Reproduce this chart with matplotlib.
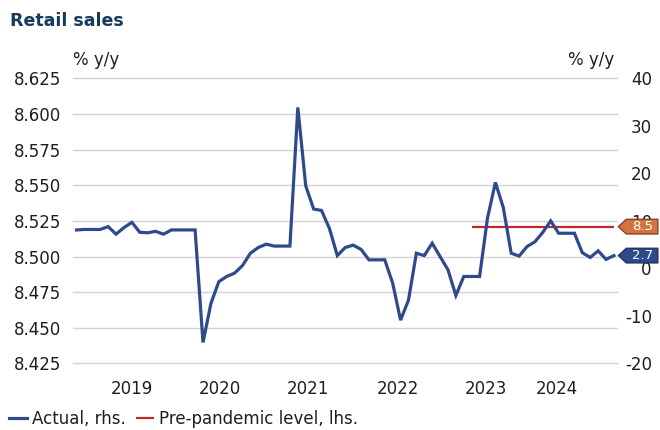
#!/usr/bin/env python3

import matplotlib
matplotlib.use('Agg')
import matplotlib.pyplot as plt
from matplotlib.patches import Polygon
import numpy as np

# monthly retail sales, % y/y (right axis)
actual = [8.1, 8.2, 8.2, 8.2, 8.8, 7.2, 8.6, 9.7, 7.6, 7.5, 7.8, 7.2,
          8.1, 8.1, 8.1, 8.1, -15.6, -7.4, -2.8, -1.7, -1.0, 0.6, 3.2, 4.4,
          5.1, 4.7, 4.7, 4.7, 33.9, 17.4, 12.5, 12.2, 8.4, 2.7, 4.4, 4.9,
          4.0, 1.8, 1.8, 1.8, -3.1, -10.9, -6.7, 3.2, 2.7, 5.3, 2.5, -0.3,
          -5.7, -1.7, -1.7, -1.7, 10.6, 18.1, 12.8, 3.2, 2.6, 4.6, 5.6, 7.6,
          10.0, 7.4, 7.4, 7.4, 3.3, 2.3, 3.7, 1.9, 2.7]

# pre-pandemic level (left axis), drawn from this month index to the end
pre_level = 8.521
pre_start = 50

years = ['2019', '2020', '2021', '2022', '2023', '2024']
year_pos = [6.96, 18.14, 29.28, 40.63, 51.81, 60.76]

left_ticks = np.arange(8.425, 8.6251, 0.025)
right_ticks = np.arange(-20, 41, 10)

blue = '#2f4a8c'
red = '#c4262e'
orange = '#d4733c'
grid = '#d3d3d3'
text = '#1e1e1e'

plt.rcParams['font.family'] = 'DejaVu Sans'
plt.rcParams['font.size'] = 12

fig = plt.figure(figsize=(6.6, 4.3), dpi=100)
ax = fig.add_axes([0.110, 0.155, 0.825, 0.6625])
ax2 = ax.twinx()

x = np.arange(len(actual))

red_line = ax.hlines(pre_level, pre_start, x[-1], color=red, linewidth=1.6,
    label='Pre-pandemic level, lhs.')
blue_line, = ax2.plot(x, actual, color=blue, linewidth=2.3,
    solid_joinstyle='miter', label='Actual, rhs.')

ax.set_xlim(-0.5, 68.4)
ax.set_ylim(8.425, 8.625)
ax2.set_ylim(-20, 40)

ax.set_yticks(left_ticks)
ax.set_yticklabels(['%.3f' % t for t in left_ticks])
ax2.set_yticks(right_ticks)
ax2.set_yticklabels(['%d' % t for t in right_ticks])
for lab in ax2.get_yticklabels():
    lab.set_horizontalalignment('right')

ax.set_xticks(year_pos)
ax.set_xticklabels(years)

ax.grid(axis='y', color=grid, linewidth=1.0)
ax.set_axisbelow(True)
for gl in ax.get_ygridlines():
    gl.set_clip_on(False)

for a in (ax, ax2):
    for s in a.spines.values():
        s.set_visible(False)
    a.tick_params(length=0, colors=text, labelsize=12)
ax.tick_params(axis='x', pad=12)
ax.tick_params(axis='y', pad=8)
ax2.tick_params(axis='y', pad=25)


# value tag on the right edge, placed by the axis the value belongs to,
# drawn on the top axes so it sits over the tick labels
def tag(value_axis, value, face, edge):
    lo, hi = value_axis.get_ylim()
    yf = (value - lo) / (hi - lo)
    h = 0.026
    verts = [(1.002, yf), (1.017, yf + h), (1.075, yf + h),
             (1.075, yf - h), (1.017, yf - h)]
    ax2.add_patch(Polygon(verts, closed=True, transform=ax2.transAxes,
        facecolor=face, edgecolor=edge, linewidth=0.8, clip_on=False,
        zorder=10))
    ax2.text(1.047, yf, '%.1f' % value, transform=ax2.transAxes,
        ha='center', va='center', color='white', fontsize=9.5,
        clip_on=False, zorder=11)


tag(ax, pre_level, orange, '#6b3515')
tag(ax2, actual[-1], blue, '#15264f')

fig.text(0.015, 0.951, 'Retail sales', fontsize=12.5, fontweight='bold',
    color='#173b5b', va='center')
fig.text(0.111, 0.860, '% y/y', fontsize=12, color=text, va='center')
fig.text(0.930, 0.860, '% y/y', fontsize=12, color=text, va='center',
    ha='right')

fig.legend(handles=[blue_line, red_line], loc='center left',
    bbox_to_anchor=(0.013, 0.025), ncol=2, frameon=False, borderpad=0,
    borderaxespad=0, handlelength=1.1, handletextpad=0.3,
    columnspacing=0.6, fontsize=12, labelcolor=text)

fig.savefig('out.png', dpi=100)
